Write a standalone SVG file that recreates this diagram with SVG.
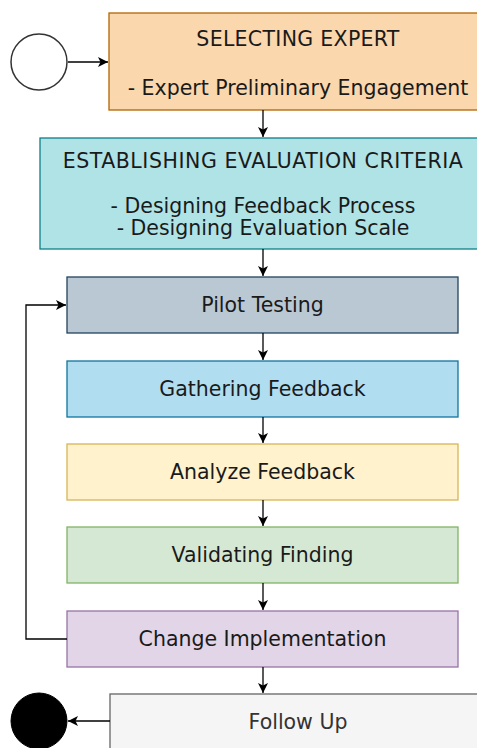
<svg xmlns="http://www.w3.org/2000/svg" width="477" height="748" viewBox="0 0 477 748">
<defs>
<marker id="arr" viewBox="0 0 10 10" refX="10" refY="5" markerWidth="10" markerHeight="10" markerUnits="userSpaceOnUse" orient="auto">
<path d="M0,0 L10,5 L0,10 L2.5,5 Z" fill="#000"/>
</marker>
</defs>
<style>
text{font-family:"DejaVu Sans",Verdana,sans-serif;font-size:20.5px;fill:#1a1a1a;text-anchor:middle}
.box{stroke-width:1.3}
.c{fill:none;stroke:#000;stroke-width:1.3}
</style>
<rect width="477" height="748" fill="#fff"/>
<g id="start"><circle cx="39" cy="62" r="28" fill="#fff" stroke="#333" stroke-width="1.5"/></g>
<g id="end"><circle cx="39" cy="721" r="28" fill="#000" stroke="#000"/></g>
<g id="selecting-expert">
<rect class="box" x="109" y="13" width="380" height="97" fill="#fad7ac" stroke="#b46504"/>
<text x="298" y="46" letter-spacing="0.3">SELECTING EXPERT</text>
<text x="298" y="95">- Expert Preliminary Engagement</text>
</g>
<g id="establishing-criteria">
<rect class="box" x="40" y="138" width="449" height="111" fill="#b0e3e6" stroke="#0e8088"/>
<text x="263" y="168" letter-spacing="0.55">ESTABLISHING EVALUATION CRITERIA</text>
<text x="263" y="213">- Designing Feedback Process</text>
<text x="263" y="235">- Designing Evaluation Scale</text>
</g>
<g id="pilot-testing">
<rect class="box" x="67" y="277" width="391" height="56" fill="#bac8d3" stroke="#23445d"/>
<text x="262.5" y="312">Pilot Testing</text>
</g>
<g id="gathering-feedback">
<rect class="box" x="67" y="361" width="391" height="56" fill="#b1ddf0" stroke="#10739e"/>
<text x="262.5" y="396">Gathering Feedback</text>
</g>
<g id="analyze-feedback">
<rect class="box" x="67" y="444" width="391" height="56" fill="#fff2cc" stroke="#d6b656"/>
<text x="262.5" y="479">Analyze Feedback</text>
</g>
<g id="validating-finding">
<rect class="box" x="67" y="527" width="391" height="56" fill="#d5e8d4" stroke="#82b366"/>
<text x="262.5" y="562">Validating Finding</text>
</g>
<g id="change-implementation">
<rect class="box" x="67" y="611" width="391" height="56" fill="#e1d5e7" stroke="#9673a6"/>
<text x="262.5" y="646">Change Implementation</text>
</g>
<g id="follow-up">
<rect class="box" x="110" y="694" width="379" height="58" fill="#f5f5f5" stroke="#666666"/>
<text x="298" y="729" style="fill:#333333">Follow Up</text>
</g>
<g id="connectors">
<path class="c" d="M68,62 H108" marker-end="url(#arr)"/>
<path class="c" d="M263,110 V137" marker-end="url(#arr)"/>
<path class="c" d="M263,249 V276" marker-end="url(#arr)"/>
<path class="c" d="M263,333 V360" marker-end="url(#arr)"/>
<path class="c" d="M263,417 V443" marker-end="url(#arr)"/>
<path class="c" d="M263,500 V526" marker-end="url(#arr)"/>
<path class="c" d="M263,583 V610" marker-end="url(#arr)"/>
<path class="c" d="M263,667 V693" marker-end="url(#arr)"/>
<path class="c" d="M110,721 H68" marker-end="url(#arr)"/>
<path class="c" d="M67,639 H26 V305 H66" marker-end="url(#arr)"/>
</g>
</svg>
